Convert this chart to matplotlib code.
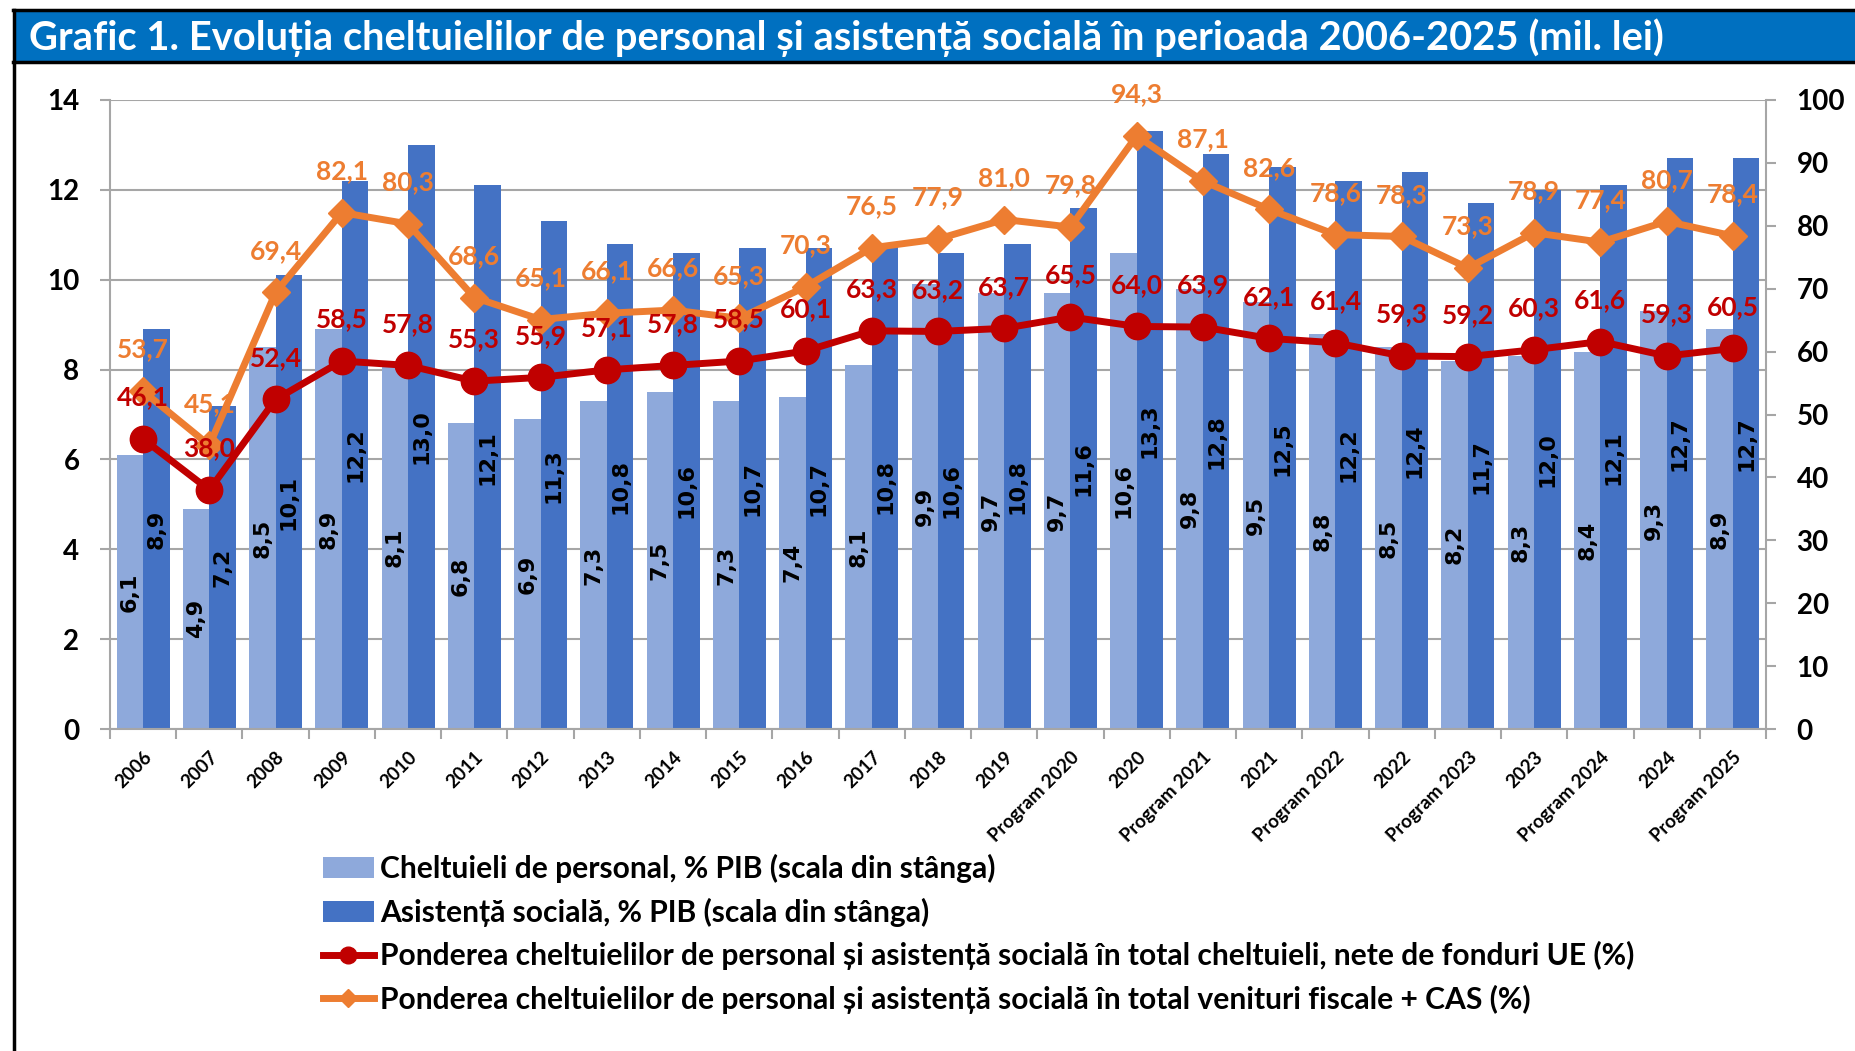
import matplotlib
matplotlib.use("Agg")
import matplotlib.pyplot as plt
from matplotlib.patches import Rectangle, Patch
from matplotlib.lines import Line2D
import numpy as np

categories = ["2006", "2007", "2008", "2009", "2010", "2011", "2012", "2013",
              "2014", "2015", "2016", "2017", "2018", "2019", "Program 2020",
              "2020", "Program 2021", "2021", "Program 2022", "2022",
              "Program 2023", "2023", "Program 2024", "2024", "Program 2025"]
personal = [6.1, 4.9, 8.5, 8.9, 8.1, 6.8, 6.9, 7.3, 7.5, 7.3, 7.4, 8.1, 9.9,
            9.7, 9.7, 10.6, 9.8, 9.5, 8.8, 8.5, 8.2, 8.3, 8.4, 9.3, 8.9]
asistenta = [8.9, 7.2, 10.1, 12.2, 13.0, 12.1, 11.3, 10.8, 10.6, 10.7, 10.7,
             10.8, 10.6, 10.8, 11.6, 13.3, 12.8, 12.5, 12.2, 12.4, 11.7, 12.0,
             12.1, 12.7, 12.7]
pondere_chelt = [46.1, 38.0, 52.4, 58.5, 57.8, 55.3, 55.9, 57.1, 57.8, 58.5,
                 60.1, 63.3, 63.2, 63.7, 65.5, 64.0, 63.9, 62.1, 61.4, 59.3,
                 59.2, 60.3, 61.6, 59.3, 60.5]
pondere_venit = [53.7, 45.1, 69.4, 82.1, 80.3, 68.6, 65.1, 66.1, 66.6, 65.3,
                 70.3, 76.5, 77.9, 81.0, 79.8, 94.3, 87.1, 82.6, 78.6, 78.3,
                 73.3, 78.9, 77.4, 80.7, 78.4]

legend_labels = [
    "Cheltuieli de personal, % PIB (scala din stânga)",
    "Asistență socială, % PIB (scala din stânga)",
    "Ponderea cheltuielilor de personal și asistență socială în total cheltuieli, nete de fonduri UE (%)",
    "Ponderea cheltuielilor de personal și asistență socială în total venituri fiscale + CAS (%)",
]
title = "Grafic 1. Evoluția cheltuielilor de personal și asistență socială în perioada 2006-2025 (mil. lei)"

LIGHT = "#8EA9DB"
DARK = "#4472C4"
RED = "#C00000"
ORANGE = "#ED7D31"
GRID = "#A6A6A6"
FONT = ["Lato", "DejaVu Sans"]

plt.rcParams["font.family"] = FONT
plt.rcParams["font.weight"] = "bold"


def fmt(v):
    return f"{v:.1f}".replace(".", ",")


fig = plt.figure(figsize=(18.56, 10.51), dpi=100)
fig.set_facecolor("white")

# title band and frame
fig.patches.append(Rectangle((0.008, 1 - 62 / 1051), 0.992, 52 / 1051,
                             transform=fig.transFigure, facecolor="#0070C0",
                             edgecolor="none", zorder=0))
fig.add_artist(Line2D([0.007, 1.0], [1 - 10 / 1051] * 2, color="black", lw=2.5))
fig.add_artist(Line2D([0.007, 1.0], [1 - 62 / 1051] * 2, color="black", lw=2.5))
fig.add_artist(Line2D([14 / 1856] * 2, [0, 1 - 10 / 1051], color="black", lw=2.5))
fig.text(29 / 1856, 1 - 38 / 1051, title, color="white", fontsize=28.75,
         fontweight="bold", va="center", ha="left")

ax1 = fig.add_axes([110 / 1856, 1 - 729 / 1051, (1766 - 110) / 1856, (729 - 100) / 1051])
x = np.arange(len(categories))
w = 0.4
b1 = ax1.bar(x - w / 2, personal, w, color=LIGHT, zorder=2)
b2 = ax1.bar(x + w / 2, asistenta, w, color=DARK, zorder=2)
for bars, vals in ((b1, personal), (b2, asistenta)):
    for r, v in zip(bars, vals):
        ax1.text(r.get_x() + r.get_width() / 2, v / 2, fmt(v), rotation=90,
                 ha="center", va="center", fontsize=16, fontweight="bold",
                 family="DejaVu Sans", color="black", zorder=3)

ax1.set_ylim(0, 14)
ax1.set_xlim(-0.5, len(categories) - 0.5)
ax1.set_yticks(range(0, 15, 2))
ax1.yaxis.grid(True, color=GRID, lw=1.5)
ax1.set_axisbelow(True)
ax1.set_xticks(x)
ax1.set_xticklabels(categories, rotation=45, ha="right", va="top",
                    rotation_mode="anchor", fontsize=13.5, fontweight="bold")
ax1.set_xticks(np.arange(-0.5, len(categories), 1), minor=True)
ax1.tick_params(axis="x", which="major", length=0, pad=14)
ax1.tick_params(axis="x", which="minor", length=7, color=GRID, width=1.5)
ax1.tick_params(axis="y", length=7, color=GRID, width=1.5, labelsize=20, pad=15)
for s in ("top", "right"):
    ax1.spines[s].set_visible(False)
for s in ("left", "bottom"):
    ax1.spines[s].set_color(GRID)
    ax1.spines[s].set_linewidth(1.5)

ax2 = ax1.twinx()
ax2.set_ylim(0, 100)
ax2.set_yticks(range(0, 101, 10))
ax2.tick_params(axis="y", length=7, color=GRID, width=1.5, labelsize=20, pad=15)
for s in ("top", "left", "bottom"):
    ax2.spines[s].set_visible(False)
ax2.spines["right"].set_color(GRID)
ax2.spines["right"].set_linewidth(1.5)

ax2.plot(x, pondere_chelt, color=RED, lw=5, marker="o", markersize=19, zorder=4)
ax2.plot(x, pondere_venit, color=ORANGE, lw=5, marker="D", markersize=14, zorder=5)
for xi, v in zip(x, pondere_chelt):
    ax2.annotate(fmt(v), (xi, v), xytext=(0, 30), textcoords="offset points",
                 ha="center", va="center", fontsize=19, fontweight="bold",
                 color=RED, zorder=6)
for xi, v in zip(x, pondere_venit):
    ax2.annotate(fmt(v), (xi, v), xytext=(0, 30), textcoords="offset points",
                 ha="center", va="center", fontsize=19, fontweight="bold",
                 color=ORANGE, zorder=4.5)

handles = [
    Patch(facecolor=LIGHT, edgecolor="none"),
    Patch(facecolor=DARK, edgecolor="none"),
    Line2D([], [], color=RED, lw=5, marker="o", markersize=12),
    Line2D([], [], color=ORANGE, lw=5, marker="D", markersize=9),
]
fig.legend(handles, legend_labels, loc="upper left",
           bbox_to_anchor=(323 / 1856, 1 - 854 / 1051), frameon=False,
           borderpad=0, borderaxespad=0, handlelength=1.7, handletextpad=0.2,
           labelspacing=0.48, prop={"family": FONT, "weight": "bold", "size": 21.6})

fig.savefig("out.png", dpi=100, facecolor="white")
